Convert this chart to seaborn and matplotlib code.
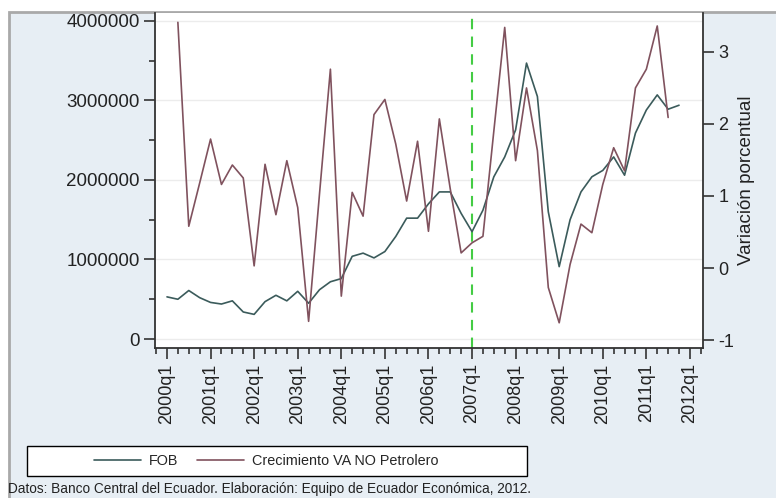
import numpy as np, pandas as pd
import seaborn as sns
import matplotlib
matplotlib.use('Agg')
import matplotlib.pyplot as plt
from matplotlib.patches import Rectangle
from matplotlib.lines import Line2D
from matplotlib.ticker import MultipleLocator, FixedLocator

# quarters 2000q1 .. 2011q4
quarters = [f'{y}q{q}' for y in range(2000, 2012) for q in range(1, 5)]
# FOB (left axis)
fob = [530000, 500000, 610000, 520000, 460000, 440000, 480000, 340000,
       310000, 470000, 550000, 480000, 600000, 450000, 620000, 720000,
       760000, 1040000, 1080000, 1020000, 1100000, 1290000, 1520000, 1520000,
       1700000, 1850000, 1850000, 1580000, 1350000, 1620000, 2040000, 2290000,
       2630000, 3470000, 3050000, 1600000, 910000, 1500000, 1850000, 2040000,
       2120000, 2290000, 2060000, 2590000, 2880000, 3070000, 2890000, 2940000]
# Crecimiento VA NO Petrolero (right axis), 2000q2 .. 2011q3
crec = [np.nan, 3.41, 0.58, 1.18, 1.79, 1.16, 1.43, 1.25,
        0.03, 1.44, 0.74, 1.49, 0.84, -0.74, 1.03, 2.76,
        -0.39, 1.05, 0.72, 2.13, 2.34, 1.72, 0.93, 1.76,
        0.51, 2.07, 1.10, 0.21, 0.35, 0.44, 1.90, 3.34,
        1.49, 2.50, 1.63, -0.27, -0.76, 0.05, 0.61, 0.49,
        1.16, 1.67, 1.35, 2.50, 2.76, 3.36, 2.09, np.nan]
left_ticks = [0, 1000000, 2000000, 3000000, 4000000]
left_labels = ['0', '1000000', '2000000', '3000000', '4000000']
right_ticks = [-1, 0, 1, 2, 3]
year_ticks = list(range(0, 49, 4))
year_labels = [f'{y}q1' for y in range(2000, 2013)]
caption = 'Datos: Banco Central del Ecuador. Elaboración: Equipo de Ecuador Económica, 2012.'

df = pd.DataFrame({'t': np.arange(len(quarters)), 'fob': fob, 'crec': crec})

sns.set_style('white')
plt.rcParams['font.family'] = ['Liberation Sans', 'DejaVu Sans']

W, H = 776, 498
fig = plt.figure(figsize=(W / 100, H / 100), dpi=100, facecolor='white')
fig.patches.append(Rectangle((9 / W, -0.1), 1.2, 1.1 - 12 / H, transform=fig.transFigure,
                             facecolor='#e7eef4', edgecolor='#a9a9a9', lw=2, zorder=-5))

ax = fig.add_axes([155 / W, 1 - 348 / H, (703 - 155) / W, (348 - 13) / H])
ax.set_facecolor('white')
c_fob = '#3b5b5b'
c_crec = '#80525e'
txt = '#222222'

sns.lineplot(data=df, x='t', y='fob', ax=ax, color=c_fob, lw=1.2)
ax.set_ylim(-113000, 4100000)
ax.set_xlim(-1.1, 49.2)
ax.yaxis.set_major_locator(FixedLocator(left_ticks))
ax.set_yticklabels(left_labels, fontsize=13.5, color=txt)
ax.yaxis.set_minor_locator(MultipleLocator(500000))
ax.set_xticks(year_ticks)
ax.set_xticklabels(year_labels, rotation=90, fontsize=13, color=txt)
ax.xaxis.set_minor_locator(MultipleLocator(1))
ax.set_xlabel('')
ax.set_ylabel('')
ax.grid(axis='y', color='#ececec', lw=1)
ax.tick_params(which='major', length=8, width=1.2, color='#333333', pad=3)
ax.tick_params(which='minor', length=4, width=1.2, color='#333333')
ax.tick_params(axis='y', which='both', left=True)
ax.tick_params(axis='x', which='both', bottom=True)
for s in ['left', 'bottom']:
    ax.spines[s].set_color('#333333')
    ax.spines[s].set_linewidth(1.3)
ax.spines['top'].set_visible(False)
ax.spines['right'].set_visible(False)
ax.axvline(28, color='#44cc44', ls=(0, (5, 3.5)), lw=1.5, zorder=1)

ax2 = ax.twinx()
sns.lineplot(data=df, x='t', y='crec', ax=ax2, color=c_crec, lw=1.2)
ax2.set_ylim(-1.11, 3.54)
ax2.set_yticks(right_ticks)
ax2.set_yticklabels([str(v) for v in right_ticks], fontsize=13, color=txt)
ax2.tick_params(axis='y', which='major', right=True, length=8, width=1.2, color='#333333', pad=3)
ax2.set_ylabel('Variación porcentual', fontsize=13.5, labelpad=3, color=txt)
ax2.set_xlabel('')
for s in ['left', 'bottom', 'top']:
    ax2.spines[s].set_visible(False)
ax2.spines['right'].set_color('#333333')
ax2.spines['right'].set_linewidth(1.3)

# legend box
fig.patches.append(Rectangle((27 / W, 1 - 476 / H), 500 / W, 30 / H, transform=fig.transFigure,
                             facecolor='white', edgecolor='black', lw=1, zorder=1))
handles = [Line2D([], [], color=c_fob, lw=1.2), Line2D([], [], color=c_crec, lw=1.2)]
fig.legend(handles, ['FOB', 'Crecimiento VA NO Petrolero'], loc='center',
           bbox_to_anchor=(266 / W, 1 - 461 / H), ncol=2, frameon=False,
           handlelength=3.3, handletextpad=0.5, columnspacing=1.3,
           prop={'family': 'Liberation Sans', 'size': 10.4})

fig.text(8 / W, 1 - 489 / H, caption, fontsize=9.8, va='center', ha='left', color=txt)

fig.savefig('out.png', dpi=100, facecolor=fig.get_facecolor())
